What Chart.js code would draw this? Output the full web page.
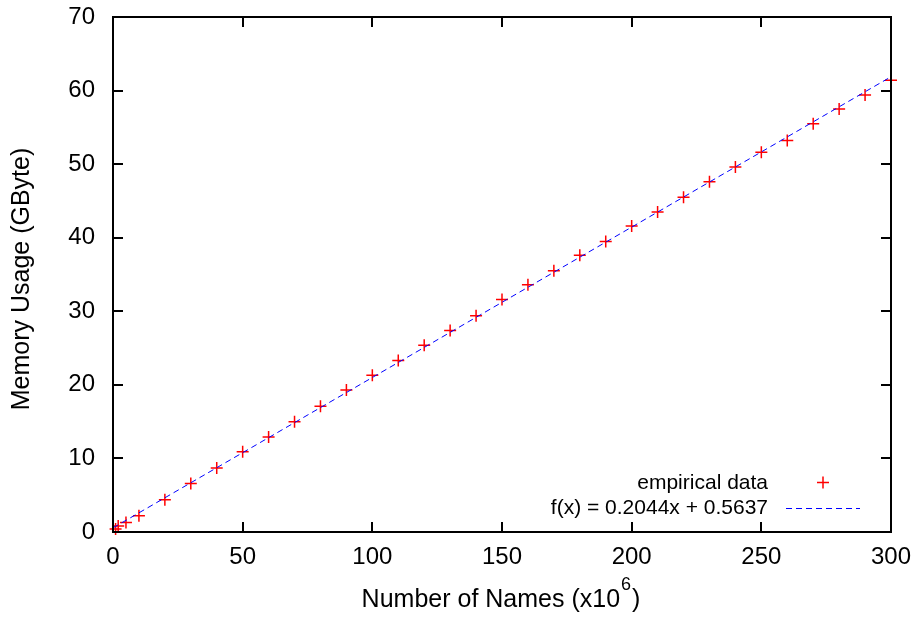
<!DOCTYPE html>
<html lang="en">
<head>
  <meta charset="UTF-8" />
  <title>Memory Usage vs Number of Names</title>
  <style>
    body { margin: 0; background: #fff; }
    #wrap { width: 920px; height: 619px; }
  </style>
  <script src="https://cdn.jsdelivr.net/npm/chart.js"></script>
</head>
<body>
  <div id="wrap"><canvas id="memChart" width="920" height="619"></canvas></div>
  <script>
    // Measured data (names in millions, memory in GByte)
    const names = [1, 2, 5, 10, 20, 30, 40, 50, 60, 70, 80, 90, 100, 110, 120, 130, 140, 150,
                   160, 170, 180, 190, 200, 210, 220, 230, 240, 250, 260, 270, 280, 290, 300];
    const memory = [0.4, 0.8, 1.3, 2.2, 4.4, 6.6, 8.7, 10.9, 12.9, 15.0, 17.1, 19.3, 21.3, 23.3,
                    25.4, 27.4, 29.4, 31.6, 33.6, 35.5, 37.6, 39.5, 41.6, 43.5, 45.5, 47.6,
                    49.6, 51.6, 53.2, 55.5, 57.5, 59.4, 61.4];

    // Fitted line endpoints
    const fitX = [0, 300];
    const fitY = [0.56, 61.88];

    const xTicks = [0, 50, 100, 150, 200, 250, 300];
    const yTicks = [0, 10, 20, 30, 40, 50, 60, 70];

    const FONT = "'Liberation Sans', Arial, sans-serif";

    // gnuplot-style frame, inward ticks, axis titles and legend
    const framePlugin = {
      id: 'frame',
      afterDraw(chart) {
        const ctx = chart.ctx;
        const a = chart.chartArea;
        const xs = chart.scales.x, ys = chart.scales.y;
        const tl = 10;
        ctx.save();
        ctx.strokeStyle = '#000';
        ctx.lineWidth = 2;
        ctx.beginPath();
        xTicks.forEach(v => {
          const px = Math.round(xs.getPixelForValue(v));
          ctx.moveTo(px, a.bottom); ctx.lineTo(px, a.bottom - tl);
          ctx.moveTo(px, a.top); ctx.lineTo(px, a.top + tl);
        });
        yTicks.forEach(v => {
          const py = Math.round(ys.getPixelForValue(v));
          ctx.moveTo(a.left, py); ctx.lineTo(a.left + tl, py);
          ctx.moveTo(a.right, py); ctx.lineTo(a.right - tl, py);
        });
        ctx.stroke();
        ctx.strokeRect(a.left, a.top, a.right - a.left, a.bottom - a.top);

        // axis titles
        ctx.fillStyle = '#000';
        ctx.font = '25px ' + FONT;
        ctx.textBaseline = 'middle';
        const main = 'Number of Names (x10';
        const sup = '6';
        const close = ')';
        const w1 = ctx.measureText(main).width;
        ctx.font = '18px ' + FONT;
        const w2 = ctx.measureText(sup).width;
        ctx.font = '25px ' + FONT;
        const w3 = ctx.measureText(close).width;
        let sx = 500 - (w1 + w2 + w3) / 2;
        const ty = 600;
        ctx.textAlign = 'left';
        ctx.fillText(main, sx, ty);
        ctx.font = '18px ' + FONT;
        ctx.fillText(sup, sx + w1 + 1, ty - 15);
        ctx.font = '25px ' + FONT;
        ctx.fillText(close, sx + w1 + w2 + 2, ty);

        ctx.save();
        ctx.translate(22, 279);
        ctx.rotate(-Math.PI / 2);
        ctx.textAlign = 'center';
        ctx.fillText('Memory Usage (GByte)', 0, 0);
        ctx.restore();

        // legend
        ctx.font = '21px ' + FONT;
        ctx.textAlign = 'right';
        ctx.fillText('empirical data', 768, 483);
        ctx.fillText('f(x) = 0.2044x + 0.5637', 768, 508);
        ctx.strokeStyle = '#ff0000';
        ctx.lineWidth = 1.5;
        ctx.beginPath();
        ctx.moveTo(817, 482.5); ctx.lineTo(829, 482.5);
        ctx.moveTo(823, 476.5); ctx.lineTo(823, 488.5);
        ctx.stroke();
        ctx.strokeStyle = '#0000ff';
        ctx.lineWidth = 1;
        ctx.setLineDash([6, 4]);
        ctx.beginPath();
        ctx.moveTo(786, 508.5); ctx.lineTo(860, 508.5);
        ctx.stroke();
        ctx.restore();
      }
    };

    const ctx = document.getElementById('memChart').getContext('2d');
    new Chart(ctx, {
      type: 'scatter',
      data: {
        datasets: [
          {
            label: 'empirical data',
            data: names.map((n, i) => ({ x: n, y: memory[i] })),
            pointStyle: 'cross',
            pointRadius: 6,
            pointBorderWidth: 1.5,
            borderColor: '#ff0000',
            backgroundColor: '#ff0000',
            showLine: false,
            clip: false,
            order: 1
          },
          {
            label: 'f(x) = 0.2044x + 0.5637',
            data: fitX.map((x, i) => ({ x: x, y: fitY[i] })),
            showLine: true,
            pointRadius: 0,
            borderColor: '#0000ff',
            borderWidth: 1,
            borderDash: [6, 4],
            order: 0
          }
        ]
      },
      options: {
        responsive: false,
        animation: false,
        devicePixelRatio: 1,
        layout: { padding: { left: 0, right: 29, top: 17, bottom: 0 } },
        plugins: {
          legend: { display: false },
          tooltip: { enabled: false }
        },
        scales: {
          x: {
            type: 'linear',
            min: 0, max: 300,
            afterFit(s) { s.height = 87; s.paddingLeft = 0; s.paddingRight = 0; },
            afterBuildTicks(s) { s.ticks = xTicks.map(v => ({ value: v })); },
            grid: { display: false, drawTicks: false },
            border: { display: false },
            ticks: { color: '#000', font: { size: 24, family: FONT }, padding: 11, maxRotation: 0 }
          },
          y: {
            type: 'linear',
            min: 0, max: 70,
            afterFit(s) { s.width = 113; s.paddingTop = 0; s.paddingBottom = 0; },
            afterBuildTicks(s) { s.ticks = yTicks.map(v => ({ value: v })); },
            grid: { display: false, drawTicks: false },
            border: { display: false },
            ticks: { color: '#000', font: { size: 24, family: FONT }, padding: 18 }
          }
        }
      },
      plugins: [framePlugin]
    });
  </script>
</body>
</html>
